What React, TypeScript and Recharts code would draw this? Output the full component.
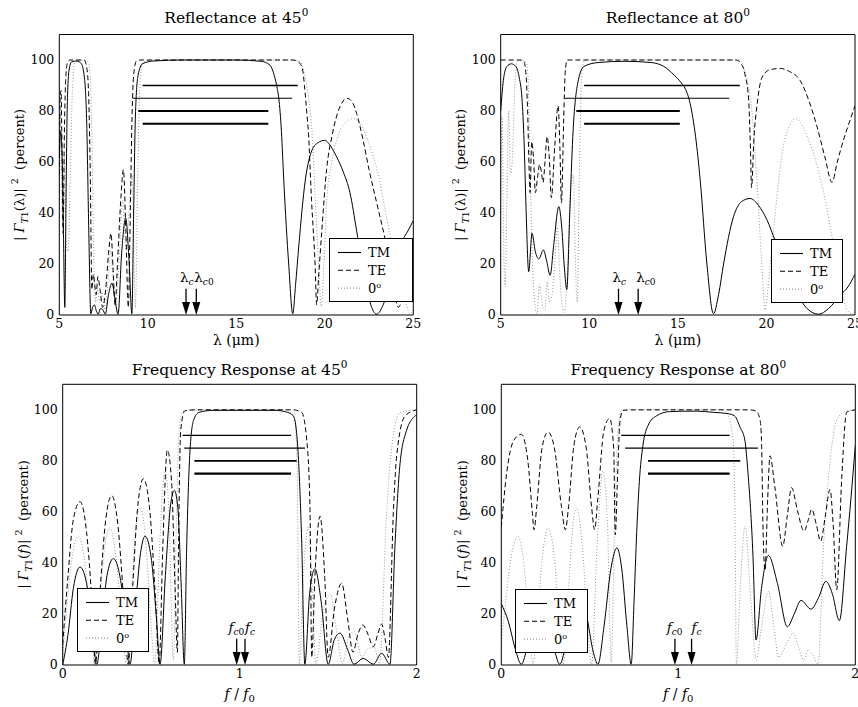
import React from 'react';
import { LineChart, Line, XAxis, YAxis, ReferenceLine, Legend } from 'recharts';

type Pt = [number, number];

const FONT = '"DejaVu Serif", serif';

// ---------- Reflectance at 45 (wavelength) ----------
const tlTM: Pt[] = [[5.0,62],[5.08,72],[5.16,62],[5.24,30],[5.31,3],[5.38,45],[5.45,82],[5.55,96],[5.7,99.3],[6.0,99.6],[6.25,98.5],[6.42,93],[6.55,75],[6.66,35],[6.78,0.5],[6.88,3],[6.98,4],[7.1,1.5],[7.2,0.3],[7.32,2.5],[7.45,2.2],[7.6,0.3],[7.78,8],[7.98,12.5],[8.15,6],[8.32,0.3],[8.52,24],[8.75,38],[8.95,20],[9.1,0.5],[9.2,40],[9.3,78],[9.45,94],[9.7,98.5],[10.3,99.6],[12,100],[15,100],[16.4,99.5],[16.9,98],[17.1,95],[17.28,90],[17.4,85],[17.55,72],[17.68,53],[17.96,20],[18.19,0.5],[18.35,12],[18.53,27],[18.9,53],[19.28,64.7],[19.6,67.5],[20.0,68.5],[20.35,66],[20.67,62],[21.05,56],[21.42,48],[21.8,33],[22.2,16],[22.6,4],[22.92,0.3],[23.3,4],[23.8,16],[24.3,28],[24.7,33],[25,37]];
const tlTE: Pt[] = [[5.0,55],[5.05,85],[5.1,88],[5.16,60],[5.22,32],[5.28,68],[5.36,92],[5.46,99],[5.6,100],[6.4,100],[6.55,97],[6.65,88],[6.75,55],[6.84,10],[6.92,16],[7.0,12],[7.08,8],[7.18,15],[7.3,10],[7.45,3],[7.62,10],[7.78,24],[7.92,32],[8.04,18],[8.15,4],[8.3,22],[8.48,46],[8.62,57],[8.76,33],[8.9,3],[9.0,35],[9.1,75],[9.2,94],[9.35,99.5],[9.6,100],[18.2,100],[18.55,99],[18.75,96],[18.85,90],[19.0,78],[19.07,72],[19.25,45],[19.45,20],[19.54,4],[19.65,15],[19.83,33],[20.1,57],[20.4,70],[20.67,78],[20.95,83],[21.25,85],[21.55,83.5],[21.8,79],[22.15,69],[22.5,57],[23.0,42],[23.4,30],[23.8,16],[24.15,3],[24.5,10],[24.8,19],[25,26]];
const tlN0: Pt[] = [[5.0,45],[5.06,80],[5.12,55],[5.2,35],[5.28,62],[5.38,30],[5.5,25],[5.62,55],[5.74,88],[5.88,99],[6.2,100],[6.6,99.5],[6.74,95],[6.84,70],[6.94,25],[7.04,5],[7.15,10],[7.28,5],[7.42,9],[7.58,2],[7.74,12],[7.9,25],[8.04,14],[8.18,3],[8.38,22],[8.58,45],[8.78,25],[8.98,45],[9.12,55],[9.22,22],[9.3,3],[9.42,50],[9.55,90],[9.72,99],[10.2,100],[18.3,100],[18.66,99],[18.9,93],[19.08,85.6],[19.27,72.5],[19.46,46],[19.65,20],[19.8,3.4],[19.95,20],[20.12,46],[20.4,60],[20.67,68.6],[21.1,75],[21.6,77],[22.2,72.5],[22.6,65],[22.95,57],[23.5,38],[24.0,20],[24.45,8],[24.83,0.5],[25,2]];
const tlBands = [{ y: 90, x1: 9.71, x2: 18.47 }, { y: 85, x1: 9.14, x2: 18.16 }, { y: 80, x1: 9.46, x2: 16.81 }, { y: 75, x1: 9.71, x2: 16.81 }];
const tlArrows = [{ x: 12.16, sub: 'c' }, { x: 12.74, sub: 'c0' }];

// ---------- Reflectance at 80 (wavelength) ----------
const trTM: Pt[] = [[5.0,80],[5.15,92],[5.35,97.5],[5.6,98.5],[5.85,97.5],[6.05,93],[6.2,85],[6.32,68],[6.43,42],[6.58,17],[6.77,32],[6.95,25],[7.15,22],[7.41,25.5],[7.6,21],[7.79,15.6],[8.0,28],[8.28,42.5],[8.45,34],[8.6,18],[8.73,10],[8.9,40],[9.07,70],[9.35,91],[9.7,97.5],[10.5,99],[12.0,99.5],[13.5,99],[14.2,97.5],[14.8,94],[15.2,91],[15.4,89],[15.69,83],[16.0,70],[16.26,53],[16.64,20],[17.01,0.5],[17.3,8],[17.58,20],[18.14,38.5],[18.6,44.5],[19.08,45.7],[19.55,43],[20.03,37.3],[20.5,29],[21.0,20],[21.6,10],[22.3,2.5],[22.95,0.3],[23.5,2.5],[24.2,8],[24.6,11],[25,16]];
const trTE: Pt[] = [[5.0,100],[6.1,100],[6.3,99.5],[6.42,95],[6.52,80],[6.6,58],[6.66,48],[6.75,68],[6.85,62],[6.96,48],[7.08,54],[7.2,59],[7.3,56],[7.39,52],[7.5,60],[7.62,70],[7.74,62],[7.86,46],[8.05,66],[8.24,82],[8.34,66],[8.43,44],[8.55,75],[8.64,95],[8.75,100],[9.5,100],[18.3,100],[18.52,99],[18.8,94],[18.99,85],[19.1,65],[19.16,50],[19.3,70],[19.46,81.7],[19.74,93],[20.2,96.2],[20.78,96.7],[21.3,95.5],[21.9,92],[22.4,84],[22.85,74],[23.3,62],[23.7,52],[24.0,60],[24.35,68.6],[24.7,76],[25,82]];
const trN0: Pt[] = [[5.0,40],[5.08,78],[5.16,30],[5.25,11],[5.35,45],[5.45,80],[5.55,55],[5.65,60],[5.8,90],[5.95,99.5],[6.2,100],[6.45,99],[6.55,92],[6.65,60],[6.8,20],[6.95,3],[7.05,0.5],[7.2,12],[7.35,4],[7.5,2],[7.62,13],[7.75,5],[7.9,8],[8.05,20],[8.2,35],[8.32,18],[8.45,5],[8.6,1],[8.75,15],[8.95,50],[9.1,55],[9.22,20],[9.32,5],[9.45,60],[9.58,95],[9.75,100],[10.2,100],[18.5,100],[18.8,95],[19.18,80],[19.46,53],[19.74,20],[19.93,2],[20.15,15],[20.4,33],[20.95,66],[21.3,74],[21.63,77],[22.0,74.5],[22.3,70],[22.8,60],[23.2,49],[23.8,27],[24.2,12],[24.55,2],[24.9,0.3],[25,1]];
const trBands = [{ y: 90, x1: 9.71, x2: 18.5 }, { y: 85, x1: 8.63, x2: 17.9 }, { y: 80, x1: 9.27, x2: 15.11 }, { y: 75, x1: 9.71, x2: 15.11 }];
const trArrows = [{ x: 11.65, sub: 'c' }, { x: 12.76, sub: 'c0' }];

// ---------- Frequency response at 45 ----------
const blTM: Pt[] = [[0,0],[0.03,12],[0.06,30],[0.098,38.4],[0.14,30],[0.17,12],[0.192,0.3],[0.22,15],[0.25,35],[0.286,41.7],[0.33,32],[0.36,12],[0.38,0.3],[0.41,22],[0.44,44],[0.465,50.5],[0.5,42],[0.53,18],[0.55,0.3],[0.58,35],[0.61,63],[0.631,68.4],[0.65,62],[0.67,30],[0.687,0.3],[0.7,45],[0.72,85],[0.74,96],[0.77,99],[0.85,99.8],[1.2,99.8],[1.27,99],[1.303,97.6],[1.32,92],[1.331,82],[1.35,49],[1.368,0.3],[1.395,28],[1.425,37.7],[1.46,25],[1.5,0.3],[1.535,10],[1.567,12.5],[1.61,6],[1.646,0.3],[1.698,2.6],[1.755,0.3],[1.802,4.6],[1.849,0.3],[1.877,46.5],[1.906,79],[1.943,92],[1.975,96.5],[2.0,98]];
const blTE: Pt[] = [[0,8],[0.03,35],[0.06,57],[0.098,64],[0.135,52],[0.165,25],[0.185,0.3],[0.21,28],[0.245,58],[0.277,66.4],[0.31,56],[0.345,25],[0.37,0.3],[0.395,30],[0.425,63],[0.456,73],[0.49,62],[0.525,25],[0.545,0.3],[0.565,45],[0.591,84.3],[0.615,72],[0.635,30],[0.648,5],[0.655,50],[0.667,92],[0.69,99.6],[0.75,100],[1.3,100],[1.35,99],[1.379,88],[1.397,62],[1.407,3],[1.425,35],[1.454,58.3],[1.48,35],[1.5,3],[1.535,22],[1.576,32],[1.61,18],[1.64,5],[1.668,12],[1.695,15.7],[1.725,12],[1.755,7.2],[1.78,12],[1.802,16],[1.822,10],[1.84,3],[1.868,59.6],[1.887,82],[1.934,97.6],[2.0,100]];
const blN0: Pt[] = [[0,3],[0.03,28],[0.06,45],[0.089,50.5],[0.125,40],[0.16,15],[0.18,0.3],[0.21,25],[0.24,48],[0.267,53.7],[0.3,43],[0.335,15],[0.36,0.3],[0.39,30],[0.415,55],[0.437,61.6],[0.47,48],[0.5,15],[0.52,0.3],[0.55,50],[0.578,76],[0.6,60],[0.625,2],[0.645,65],[0.66,94],[0.68,99.5],[0.73,100],[1.25,100],[1.3,98],[1.313,95],[1.325,75],[1.337,0.3],[1.36,35],[1.388,54],[1.41,30],[1.43,0.5],[1.47,20],[1.51,28],[1.55,12],[1.58,0.5],[1.62,12],[1.65,13],[1.69,3],[1.72,6],[1.76,7],[1.79,0.5],[1.83,60],[1.86,86],[1.906,99],[2.0,100]];
const blBands = [{ y: 90, x1: 0.678, x2: 1.29 }, { y: 85, x1: 0.687, x2: 1.369 }, { y: 80, x1: 0.744, x2: 1.322 }, { y: 75, x1: 0.744, x2: 1.29 }];
const blArrows = [{ x: 0.983, sub: 'c0' }, { x: 1.03, sub: 'c' }];

// ---------- Frequency response at 80 ----------
const brTM: Pt[] = [[0,24],[0.04,17],[0.08,6],[0.113,0.3],[0.15,8],[0.19,20],[0.22,24],[0.26,18],[0.3,6],[0.33,0.3],[0.37,10],[0.41,24],[0.44,28],[0.48,20],[0.52,5],[0.546,0.3],[0.58,15],[0.62,38],[0.653,45.9],[0.68,38],[0.71,15],[0.734,0.3],[0.75,25],[0.765,52],[0.78,72],[0.8,86],[0.83,94],[0.876,97.6],[0.95,99.3],[1.1,99.5],[1.2,99],[1.28,98.5],[1.318,97.6],[1.35,93],[1.375,88.5],[1.394,75],[1.422,42.6],[1.439,9.8],[1.47,30],[1.509,42.9],[1.56,32],[1.616,15],[1.655,20],[1.693,25.3],[1.75,21.9],[1.79,26],[1.834,32.8],[1.87,28],[1.91,17.4],[1.951,46.5],[1.975,65],[2.0,86]];
const brTE: Pt[] = [[0,54],[0.03,75],[0.07,88],[0.113,90.4],[0.15,80],[0.175,60],[0.185,53],[0.2,62],[0.23,85],[0.264,91.3],[0.3,85],[0.34,62],[0.362,53],[0.38,62],[0.41,86],[0.443,93.3],[0.48,85],[0.51,62],[0.527,53],[0.545,65],[0.58,92],[0.612,96.6],[0.635,85],[0.644,51],[0.655,70],[0.67,95],[0.687,99.8],[0.75,100],[1.4,100],[1.44,99.5],[1.462,96],[1.47,88],[1.478,55.7],[1.49,37],[1.505,65],[1.518,82],[1.545,70],[1.59,46.5],[1.615,58],[1.64,69.5],[1.675,60],[1.71,52.4],[1.735,57],[1.754,61],[1.78,55],[1.804,48.5],[1.83,58],[1.857,68.8],[1.875,55],[1.895,29.5],[1.923,72.7],[1.951,99],[2.0,100]];
const brN0: Pt[] = [[0,8],[0.03,28],[0.06,44],[0.094,50.5],[0.13,38],[0.16,12],[0.179,0.3],[0.21,25],[0.24,47],[0.264,53.7],[0.3,42],[0.33,14],[0.35,0.3],[0.38,30],[0.405,55],[0.424,61.6],[0.46,45],[0.49,12],[0.51,0.3],[0.54,45],[0.574,76],[0.6,55],[0.621,1],[0.64,55],[0.66,92],[0.678,99.5],[0.72,100],[1.25,100],[1.28,98],[1.31,88],[1.32,60],[1.328,0.3],[1.35,30],[1.377,54.4],[1.41,25],[1.44,2],[1.47,15],[1.51,28.8],[1.54,15],[1.567,3],[1.61,8],[1.65,12.5],[1.68,7],[1.707,2],[1.735,6],[1.76,4],[1.79,0.3],[1.82,46.5],[1.848,72.7],[1.895,96],[1.951,99.6],[2.0,100]];
const brBands = [{ y: 90, x1: 0.678, x2: 1.29 }, { y: 85, x1: 0.7, x2: 1.45 }, { y: 80, x1: 0.829, x2: 1.35 }, { y: 75, x1: 0.829, x2: 1.29 }];
const brArrows = [{ x: 0.981, sub: 'c0' }, { x: 1.075, sub: 'c' }];

const lambdaTicks = [5, 10, 15, 20, 25];
const freqTicks = [0, 1, 2];
const yTicks = [0, 20, 40, 60, 80, 100];
const seriesNames = ['TM', 'TE', '0°'];

const BAND_W = [1.3, 1.1, 1.8, 2.1];
const SERIES_STYLE = [
  { stroke: '#000', dash: undefined as string | undefined, w: 1 },
  { stroke: '#000', dash: '5 3', w: 1 },
  { stroke: '#999', dash: '1 2', w: 1 },
];

const toData = (pts: Pt[]) => pts.map(([x, y]) => ({ x, y }));

const LegendBox = ({ w }: { w: number }) => (
  <div style={{ width: w, height: 64, boxSizing: 'border-box', border: '1.4px solid #000', background: '#fff' }}>
    <svg width={w - 3} height={61} style={{ display: 'block' }}>
      {seriesNames.map((n, i) => {
        const cy = 13.5 + i * 17.8;
        const st = SERIES_STYLE[i];
        return (
          <g key={n}>
            <line x1={8} x2={31} y1={cy} y2={cy} stroke={st.stroke} strokeDasharray={st.dash} strokeWidth={1.1} />
            <text x={38} y={cy + 4.5} fontFamily={FONT} fontSize={13} fill="#000">
              {n === '0°' ? (<>0<tspan dy={-5} fontSize={8}>o</tspan></>) : n}
            </text>
          </g>
        );
      })}
    </svg>
  </div>
);

const makeArrowShape = (sym: string, italic: boolean, sub: string, first: boolean) => (p: any) => {
  const { x1, y1, x2, y2 } = p;
  const subC = sub.charAt(0);
  const subRest = sub.slice(1);
  const tx = first ? x1 + 7.5 : x1 - (italic ? 0 : 2);
  return (
    <g>
      <line x1={x1} y1={y1} x2={x2} y2={y2 - 12} stroke="#000" strokeWidth={1.3} />
      <polygon points={`${x2 - 4},${y2 - 13} ${x2 + 4},${y2 - 13} ${x2},${y2}`} fill="#000" />
      <text x={tx} y={y1 - 7} textAnchor={first ? 'end' : 'start'} fontFamily={FONT} fontSize={13.5} fill="#000">
        <tspan fontStyle={italic ? 'italic' : 'normal'}>{sym}</tspan>
        <tspan dy={3} fontSize={9} fontStyle="italic">{subC}</tspan>
        {subRest ? <tspan fontSize={9}>{subRest}</tspan> : null}
      </text>
    </g>
  );
};

interface PanelProps {
  left: number; top: number; width: number; height: number;
  margin: { top: number; right: number; bottom: number; left: number };
  domain: [number, number]; ticks: number[];
  series: Pt[][];
  bands: { y: number; x1: number; x2: number }[];
  arrows: { x: number; sub: string }[];
  sym: string; italic: boolean;
  legend: { left: number; top: number; w: number };
}

const tickStyle = { fill: '#000', fontSize: 12.5, fontFamily: FONT };

const Panel = (pp: PanelProps) => (
  <div style={{ position: 'absolute', left: pp.left, top: pp.top }}>
    <LineChart width={pp.width} height={pp.height} margin={pp.margin}>
      <XAxis xAxisId="b" type="number" dataKey="x" domain={pp.domain} ticks={pp.ticks} interval={0} allowDataOverflow
        tickLine={false} tickSize={0} tickMargin={4} height={25} tick={tickStyle} axisLine={{ stroke: '#000', strokeWidth: 1 }} />
      <XAxis xAxisId="bm" type="number" dataKey="x" domain={pp.domain} ticks={pp.ticks} interval={0} mirror allowDataOverflow
        tick={false} tickSize={4} tickLine={{ stroke: '#000' }} axisLine={false} />
      <XAxis xAxisId="t" orientation="top" type="number" dataKey="x" domain={pp.domain} ticks={pp.ticks} interval={0} mirror allowDataOverflow
        tick={false} tickSize={4} tickLine={{ stroke: '#000' }} axisLine={{ stroke: '#000', strokeWidth: 1 }} />
      <YAxis yAxisId="l" type="number" domain={[0, 110]} ticks={yTicks} interval={0} allowDataOverflow width={40}
        tickLine={false} tickSize={0} tickMargin={5} tick={tickStyle} axisLine={{ stroke: '#000', strokeWidth: 1 }} />
      <YAxis yAxisId="lm" type="number" domain={[0, 110]} ticks={yTicks} interval={0} mirror allowDataOverflow
        tick={false} tickSize={4} tickLine={{ stroke: '#000' }} axisLine={false} />
      <YAxis yAxisId="r" orientation="right" type="number" domain={[0, 110]} ticks={yTicks} interval={0} mirror allowDataOverflow
        tick={false} tickSize={4} tickLine={{ stroke: '#000' }} axisLine={{ stroke: '#000', strokeWidth: 1 }} />
      {[2, 1, 0].map((i) => (
        <Line key={seriesNames[i]} name={seriesNames[i]} xAxisId="b" yAxisId="l" data={toData(pp.series[i])} dataKey="y"
          type="monotone" stroke={SERIES_STYLE[i].stroke} strokeDasharray={SERIES_STYLE[i].dash} strokeWidth={SERIES_STYLE[i].w}
          dot={false} activeDot={false} isAnimationActive={false} />
      ))}
      {pp.bands.map((b, i) => (
        <ReferenceLine key={`b${i}`} xAxisId="b" yAxisId="l" segment={[{ x: b.x1, y: b.y }, { x: b.x2, y: b.y }]}
          stroke="#000" strokeWidth={BAND_W[i]} ifOverflow="visible" />
      ))}
      {pp.arrows.map((a, i) => (
        <ReferenceLine key={`a${i}`} xAxisId="b" yAxisId="l" segment={[{ x: a.x, y: 10.3 }, { x: a.x, y: 0 }]}
          ifOverflow="visible" shape={makeArrowShape(pp.sym, pp.italic, a.sub, i === 0)} />
      ))}
      <Legend layout="vertical" align="center" verticalAlign="middle"
        wrapperStyle={{ left: pp.legend.left, top: pp.legend.top, width: pp.legend.w, height: 64 }}
        content={() => <LegendBox w={pp.legend.w} />} />
    </LineChart>
  </div>
);

const YLabel = ({ x, y, v, italic }: { x: number; y: number; v: string; italic: boolean }) => (
  <text transform={`translate(${x},${y}) rotate(-90)`} textAnchor="middle" fontFamily={FONT} fontSize={13} fill="#000" style={{ whiteSpace: 'pre' }}>
    <tspan>{'| '}</tspan>
    <tspan fontStyle="italic">Γ</tspan>
    <tspan dy={4} fontSize={9.5} fontStyle="italic">T</tspan>
    <tspan fontSize={9.5}>1</tspan>
    <tspan dy={-4}>(</tspan>
    <tspan fontStyle={italic ? 'italic' : 'normal'}>{v}</tspan>
    <tspan>{')| '}</tspan>
    <tspan dy={-6} fontSize={9.5}>2</tspan>
    <tspan dy={6}>{'  (percent)'}</tspan>
  </text>
);

const Title = ({ x, y, text, deg }: { x: number; y: number; text: string; deg: string }) => (
  <text x={x} y={y} textAnchor="middle" fontFamily={FONT} fontSize={15.5} fill="#000">
    {text} {deg}<tspan dy={-7} fontSize={10.5}>0</tspan>
  </text>
);

export default function App() {
  return (
    <div style={{ position: 'absolute', left: 0, top: 0, width: 858, height: 707, background: '#fff', overflow: 'hidden' }}>
      <Panel left={0} top={0} width={430} height={345} margin={{ top: 34.5, right: 16.7, bottom: 5, left: 19.3 }}
        domain={[5, 25]} ticks={lambdaTicks} series={[tlTM, tlTE, tlN0]} bands={tlBands} arrows={tlArrows}
        sym="λ" italic={false} legend={{ left: 329, top: 238, w: 84 }} />
      <Panel left={430} top={0} width={428} height={345} margin={{ top: 34.5, right: 3, bottom: 5, left: 30.7 }}
        domain={[5, 25]} ticks={lambdaTicks} series={[trTM, trTE, trN0]} bands={trBands} arrows={trArrows}
        sym="λ" italic={false} legend={{ left: 340.7, top: 238.5, w: 72.5 }} />
      <Panel left={0} top={345} width={430} height={362} margin={{ top: 39.3, right: 13.3, bottom: 17, left: 22.7 }}
        domain={[0, 2]} ticks={freqTicks} series={[blTM, blTE, blN0]} bands={blBands} arrows={blArrows}
        sym="f" italic={true} legend={{ left: 76.7, top: 243, w: 72.5 }} />
      <Panel left={430} top={345} width={428} height={362} margin={{ top: 39.3, right: 2.7, bottom: 17, left: 31.3 }}
        domain={[0, 2]} ticks={freqTicks} series={[brTM, brTE, brN0]} bands={brBands} arrows={brArrows}
        sym="f" italic={true} legend={{ left: 85, top: 243.5, w: 72.5 }} />
      <svg width={858} height={707} style={{ position: 'absolute', left: 0, top: 0, pointerEvents: 'none' }}>
        <Title x={236.3} y={23} text="Reflectance at" deg="45" />
        <Title x={677.9} y={23} text="Reflectance at" deg="80" />
        <Title x={239.7} y={374.5} text="Frequency Response at" deg="45" />
        <Title x={678.3} y={374.5} text="Frequency Response at" deg="80" />
        <YLabel x={24} y={175} v="λ" italic={false} />
        <YLabel x={465.4} y={175} v="λ" italic={false} />
        <YLabel x={28.3} y={524.5} v="f" italic={true} />
        <YLabel x={466.9} y={524.5} v="f" italic={true} />
        <text x={236.3} y={345} textAnchor="middle" fontFamily={FONT} fontSize={14} fill="#000">λ (μm)</text>
        <text x={677.9} y={345} textAnchor="middle" fontFamily={FONT} fontSize={14} fill="#000">λ (μm)</text>
        {[239.7, 678.3].map((cx) => (
          <text key={cx} x={cx} y={699} textAnchor="middle" fontFamily={FONT} fontSize={14} fill="#000">
            <tspan fontStyle="italic">f</tspan>{' / '}<tspan fontStyle="italic">f</tspan><tspan dy={3} fontSize={10}>0</tspan>
          </text>
        ))}
      </svg>
    </div>
  );
}
